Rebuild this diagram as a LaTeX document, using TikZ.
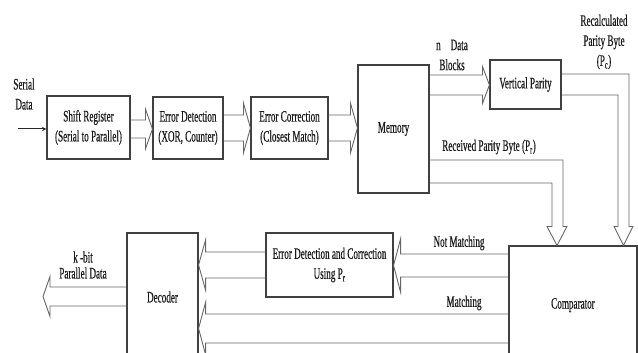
\documentclass[tikz,border=0pt]{standalone}
\usepackage{fontspec}
\setmainfont{Liberation Serif}[FakeStretch=0.57, FakeBold=0.4]
\usetikzlibrary{calc}

\tikzset{
  blk/.style={draw=black!75, line width=1.1pt, fill=white, align=center, inner sep=1pt},
  busline/.style={draw=black!60, line width=0.9pt, line join=miter},
  lbl/.style={align=center, inner sep=0pt},
}

% hollow bus arrow: start, tip, half shaft, half head
\newcommand{\bus}[4]{%
  \draw[busline] let \p1=($(#2)-(#1)$), \n1={atan2(\y1,\x1)} in
    ($(#1)+(\n1+90:#3pt)$) -- ($(#2)+(\n1+180:7pt)+(\n1+90:#3pt)$)
    -- ($(#2)+(\n1+180:7pt)+(\n1+90:#4pt)$) -- (#2)
    -- ($(#2)+(\n1+180:7pt)+(\n1-90:#4pt)$) -- ($(#2)+(\n1+180:7pt)+(\n1-90:#3pt)$)
    -- ($(#1)+(\n1-90:#3pt)$);}

\begin{document}
\begin{tikzpicture}[x=1pt, y=-1pt, every node/.style={font=\fontsize{16}{20}\selectfont, text=black!90}]
    \path[use as bounding box] (0,0) rectangle (638,353);
    \clip (0,0) rectangle (638,353);

    % blocks
    \node[blk, minimum width=83, minimum height=63] (sr) at (88.5,127.5) {Shift Register\\(Serial to Parallel)};
    \node[blk, minimum width=70, minimum height=62] (edet) at (188,128) {Error Detection\\(XOR, Counter)};
    \node[blk, minimum width=77, minimum height=62] (ecorr) at (289.5,128) {Error Correction\\(Closest Match)};
    \node[blk, minimum width=71, minimum height=128] (mem) at (393.5,129) {Memory};
    \node[blk, minimum width=71, minimum height=49] (vpar) at (525.5,84.5) {Vertical Parity};
    \node[blk, minimum width=128, minimum height=118] (cmp) at (573,305) {Comparator};
    \node[blk, minimum width=71, minimum height=128] (dec) at (162.5,297) {Decoder};
    \node[blk, minimum width=127, minimum height=64] (edc) at (329.5,265) {Error Detection and Correction\\Using P\textsubscript{r}};

    \coordinate (in) at (18,129);
    \coordinate (out) at (43,296.5);
    \coordinate (pc) at (cmp.north -| 623.5,0);
    \coordinate (pr) at (cmp.north -| 557,0);

    % labels
    \node[lbl] (serial) at (24,94) {Serial\\Data};
    \node[lbl] (blocks) at (452,55) {n\hspace{10pt}Data\\Blocks};
    \node[lbl] (recalc) at (604,42) {Recalculated\\Parity Byte\\(P\textsubscript{c})};
    \node[lbl] (recv) at (489,147) {Received Parity Byte (P\textsubscript{r})};
    \node[lbl] (notm) at (459,243) {Not Matching};
    \node[lbl] (match) at (464,303) {Matching};
    \node[lbl, font=\fontsize{16}{16}\selectfont] (kbit) at (83,265) {k -bit\\Parallel Data};

    % connectors
    \draw[-stealth, line width=1pt, black!85] (in) -- (sr.west |- in);
    \bus{sr.east |- 0,129}{edet.west |- 0,129}{9}{20}
    \bus{edet.east |- 0,128}{ecorr.west |- 0,128}{13}{25}
    \bus{ecorr.east |- 0,128}{mem.west |- 0,128}{13}{25}
    \bus{mem.east |- 0,85}{vpar.west |- 0,85}{10}{18.5}
    \draw[busline] (vpar.east |- 0,74) -| ($(pc)+(5.5,-19)$) -- ++(4,0) -- (pc) -- ++(-9.5,-19) -- ++(4,0) |- (vpar.east |- 0,95);
    \draw[busline] (mem.east |- 0,160) -| ($(pr)+(6,-19)$) -- ++(4,0) -- (pr) -- ++(-10,-19) -- ++(5,0) |- (mem.east |- 0,183);
    \bus{cmp.west |- 0,265.5}{edc.east |- 0,265.5}{11.5}{26.5}
    \bus{edc.west |- 0,265}{dec.east |- 0,265}{13}{25}
    \bus{cmp.west |- 0,328.5}{dec.east |- 0,328.5}{14.5}{26}
    \bus{dec.west |- 0,296.5}{out}{9.5}{20}
\end{tikzpicture}
\end{document}
